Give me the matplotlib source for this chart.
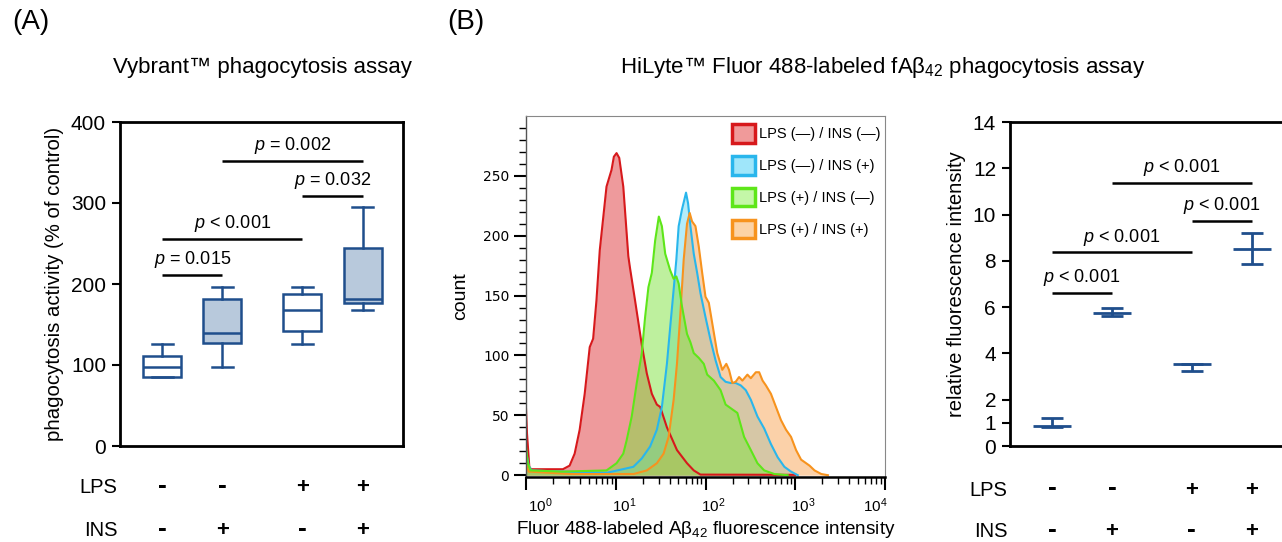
import numpy as np
import matplotlib
matplotlib.use("Agg")
import matplotlib.pyplot as plt
import matplotlib.transforms as mtransforms
from matplotlib.patches import Patch

plt.rcParams['font.family'] = ['Liberation Sans', 'DejaVu Sans']
plt.rcParams['mathtext.fontset'] = 'custom'
plt.rcParams['mathtext.rm'] = 'Liberation Sans'
plt.rcParams['mathtext.it'] = 'Liberation Sans:italic'

# ---- data ----
lps = ['-', '-', '+', '+']
ins = ['-', '+', '-', '+']

# (A) Vybrant box plot stats
box_lo = [85, 98, 126, 168]
box_q1 = [85, 127, 142, 177]
box_med = [98, 140, 168, 182]
box_q3 = [111, 181, 188, 245]
box_hi = [126, 196, 196, 295]
box_filled = [False, True, False, True]

sig_a_pairs = [(0, 1), (0, 2), (2, 3), (1, 3)]
sig_a_y = [211, 256, 309, 352]
sig_a_text = ['= 0.015', '< 0.001', '= 0.032', '= 0.002']

# (B) histograms, x given as log10(intensity)
red_lx = [-0.05, 0.0, 0.011, 0.037, 0.056, 0.2, 0.411, 0.486, 0.542, 0.598, 0.654, 0.710, 0.748,
          0.785, 0.822, 0.897, 0.953, 0.979, 1.009, 1.039, 1.084, 1.140, 1.159, 1.215, 1.290,
          1.346, 1.402, 1.458, 1.495, 1.570, 1.682, 1.794, 1.869, 1.944, 3.0]
red_y = [56, 56, 35, 7, 5, 5, 5, 8, 18, 38, 68, 107, 114,
         146, 188, 241, 255, 266, 269, 265, 241, 183, 173, 146, 109,
         85, 68, 59, 57, 40, 21, 10, 4, 0.5, 0.3]

cyan_lx = [-0.05, 0.0, 0.03, 0.06, 0.4, 0.9, 1.196, 1.290, 1.383, 1.458, 1.514, 1.570, 1.607, 1.645,
           1.675, 1.701, 1.738, 1.764, 1.783, 1.806, 1.832, 1.869, 1.907, 1.944, 2.000,
           2.056, 2.112, 2.168, 2.224, 2.280, 2.336, 2.393, 2.449, 2.505, 2.579, 2.654,
           2.729, 2.804, 2.879, 2.953, 3.028]
cyan_y = [20, 20, 8, 4, 3, 2, 7, 14, 24, 38, 57, 93, 124, 155,
          180, 208, 222, 230, 236, 227, 208, 185, 169, 152, 132,
          113, 96, 82, 78, 77, 77, 75, 71, 63, 49, 39,
          26, 15, 7, 3, 0]

green_lx = [-0.05, 0.0, 0.02, 0.05, 0.4, 0.897, 1.009, 1.084, 1.121, 1.178, 1.234, 1.290, 1.327,
            1.364, 1.402, 1.439, 1.480, 1.514, 1.551, 1.607, 1.645, 1.675, 1.701, 1.738,
            1.794, 1.832, 1.869, 1.925, 1.981, 2.019, 2.093, 2.168, 2.224, 2.280, 2.355,
            2.430, 2.505, 2.579, 2.654, 2.766, 2.916]
green_y = [24, 24, 10, 4, 3, 4, 10, 18, 29, 49, 77, 102, 132,
           157, 169, 196, 216, 208, 185, 171, 164, 166, 160, 141,
           118, 111, 102, 98, 93, 84, 79, 71, 59, 56, 52,
           32, 21, 10, 4, 1, 0]

orange_lx = [-0.05, 0.0, 0.03, 0.5, 1.2, 1.346, 1.458, 1.533, 1.589, 1.645, 1.682, 1.720, 1.757,
             1.794, 1.824, 1.850, 1.888, 1.925, 1.963, 2.000, 2.037, 2.075, 2.131, 2.187,
             2.232, 2.262, 2.299, 2.336, 2.374, 2.411, 2.467, 2.505, 2.561, 2.598, 2.636,
             2.673, 2.729, 2.785, 2.841, 2.897, 2.953, 3.009, 3.065, 3.159, 3.215, 3.290, 3.364]
orange_y = [10, 10, 3, 1, 1, 4, 10, 18, 32, 63, 93, 135, 180,
            210, 219, 212, 208, 191, 169, 149, 144, 127, 102, 88,
            93, 88, 77, 78, 82, 79, 84, 81, 86, 86, 79,
            75, 68, 57, 46, 38, 32, 21, 13, 8, 4, 1, 0]

label_red = 'LPS (—) / INS (—)'
label_cyan = 'LPS (—) / INS (+)'
label_green = 'LPS (+) / INS (—)'
label_orange = 'LPS (+) / INS (+)'

# (C) relative fluorescence intensity, mean with lower / upper error
rfi_mean = [0.86, 5.75, 3.53, 8.50]
rfi_lo = [0.80, 5.60, 3.23, 7.87]
rfi_hi = [1.22, 5.98, 3.56, 9.19]

sig_c_pairs = [(0, 1), (0, 2), (2, 3), (1, 3)]
sig_c_y = [6.63, 8.37, 9.74, 11.37]
sig_c_text = ['< 0.001', '< 0.001', '< 0.001', '< 0.001']

# ---- layout ----
W, H = 1282, 542
fig = plt.figure(figsize=(W / 100, H / 100), dpi=100)

def px_axes(l, t, r, b):
    return fig.add_axes([l / W, 1 - b / H, (r - l) / W, (b - t) / H])

pos = [1, 2, 3.33, 4.33]
blue = '#1f4e8c'

def style_dotplot(ax):
    for s in ax.spines.values():
        s.set_linewidth(2)
    ax.set_xlim(0.3, 5.0)
    ax.set_xticks([])
    ax.tick_params(axis='y', direction='out', length=6, width=1.5, labelsize=15, pad=4)

def add_rows(ax, y1, y2):
    tr = mtransforms.blended_transform_factory(ax.transData, ax.transAxes)
    for name, signs, yy in [('LPS', lps, y1), ('INS', ins, y2)]:
        ax.text(-0.01, yy, name, transform=ax.transAxes, ha='right', va='center', fontsize=14.5)
        for p, s in zip(pos, signs):
            if s == '-':
                ax.text(p, yy + 0.005, s, transform=tr, ha='center', va='center', fontsize=19,
                        fontweight='bold')
            else:
                ax.text(p, yy, s, transform=tr, ha='center', va='center', fontsize=16,
                        fontweight='bold')

def add_sig(ax, pairs, ys, texts, off):
    for (i, j), y, t in zip(pairs, ys, texts):
        ax.plot([pos[i], pos[j]], [y, y], color='black', lw=1.8, solid_capstyle='butt')
        ax.text((pos[i] + pos[j]) / 2, y + off, '$\\it{p}$ ' + t, ha='center', va='bottom',
                fontsize=13)

# ---- panel A ----
axA = px_axes(120, 122, 403, 446)
stats = []
for lo, q1, md, q3, hi in zip(box_lo, box_q1, box_med, box_q3, box_hi):
    stats.append(dict(whislo=lo, q1=q1, med=md, q3=q3, whishi=hi, fliers=[]))
bp = axA.bxp(stats, positions=pos, widths=0.63, capwidths=0.35, patch_artist=True,
             showfliers=False,
             boxprops=dict(edgecolor=blue, linewidth=1.8),
             medianprops=dict(color=blue, linewidth=1.8),
             whiskerprops=dict(color=blue, linewidth=1.8),
             capprops=dict(color=blue, linewidth=1.8))
for patch, f in zip(bp['boxes'], box_filled):
    patch.set_facecolor('#b8c9dc' if f else 'white')
axA.set_ylim(0, 400)
axA.set_yticks([0, 100, 200, 300, 400])
style_dotplot(axA)
axA.set_ylabel('phagocytosis activity (% of control)', fontsize=14.7, labelpad=5)
add_rows(axA, -0.127, -0.26)
add_sig(axA, sig_a_pairs, sig_a_y, sig_a_text, 6)

# ---- panel B ----
axB = px_axes(526, 116, 885, 477)
curves = {
    'red': (red_lx, red_y, '#e0474c', 0.55, '#d7191c', '#f09a9a', label_red),
    'cyan': (cyan_lx, cyan_y, '#5ad6f2', 0.45, '#29b6ec', '#9fe6fa', label_cyan),
    'orange': (orange_lx, orange_y, '#f9a455', 0.5, '#f7931e', '#fcd3a6', label_orange),
    'green': (green_lx, green_y, '#7fe33f', 0.5, '#5ee619', '#c4f7a8', label_green),
}
handles = {}
for key in ['red', 'cyan', 'orange', 'green']:
    lx, y, fc, a, lc, legc, lab = curves[key]
    x = 10 ** np.array(lx)
    axB.fill_between(x, 0, y, color=fc, alpha=a, lw=0)
    axB.plot(x, y, color=lc, lw=1.5)
    handles[key] = Patch(facecolor=legc, edgecolor=lc, linewidth=2.5, label=lab)
axB.set_xscale('log')
axB.set_xlim(1, 1e4)
axB.set_ylim(-1.5, 300)
axB.set_xticks([1, 10, 100, 1000, 10000],
               labels=['$10^{0}$', '$10^{1}$', '$10^{2}$', '$10^{3}$', '$10^{4}$'],
               fontsize=11)
axB.set_yticks([0, 50, 100, 150, 200, 250], labels=['0', '50', '100', '150', '200', '250'],
               fontfamily='DejaVu Sans', fontsize=10)
axB.set_yticks(np.arange(0, 300, 10), minor=True)
axB.tick_params(which='major', direction='out', length=9, width=1.5, pad=3)
axB.tick_params(axis='x', which='major', pad=5)
axB.tick_params(which='minor', direction='out', length=5, width=1)
for s in ['top', 'right']:
    axB.spines[s].set_color('#888888')
    axB.spines[s].set_linewidth(0.8)
axB.spines['left'].set_color('#555555')
axB.spines['left'].set_linewidth(1)
axB.spines['bottom'].set_linewidth(1.8)
axB.set_ylabel('count', fontsize=14, labelpad=10)
axB.set_xlabel('Fluor 488-labeled Aβ$_{42}$ fluorescence intensity', fontsize=13.6, labelpad=3)
axB.legend(handles=[handles[k] for k in ['red', 'cyan', 'green', 'orange']],
           loc='upper right', bbox_to_anchor=(1.0, 0.99), frameon=False,
           fontsize=10.5, handlelength=1.6, handleheight=1.6, labelspacing=0.9,
           handletextpad=0.25, borderaxespad=0.1, borderpad=0.2)

# ---- panel C ----
axC = px_axes(1010, 122, 1292, 446)
for p, m, lo, hi in zip(pos, rfi_mean, rfi_lo, rfi_hi):
    axC.errorbar([p], [m], yerr=[[m - lo], [hi - m]], fmt='_', color=blue, markersize=28,
                 mew=2, elinewidth=2, capsize=8, capthick=2)
axC.set_ylim(0, 14)
axC.set_yticks([0, 1, 2, 4, 6, 8, 10, 12, 14])
style_dotplot(axC)
axC.set_ylabel('relative fluorescence intensity', fontsize=14.6, labelpad=5)
add_rows(axC, -0.136, -0.265)
add_sig(axC, sig_c_pairs, sig_c_y, sig_c_text, 0.2)

# ---- titles ----
fig.text(12 / W, 1 - 22 / H, '(A)', fontsize=20, va='center')
fig.text(447 / W, 1 - 22 / H, '(B)', fontsize=20, va='center')
fig.text(262 / W, 1 - 68 / H, 'Vybrant™ phagocytosis assay', fontsize=16, ha='center', va='center')
fig.text(883 / W, 1 - 68 / H, 'HiLyte™ Fluor 488-labeled fAβ$_{42}$ phagocytosis assay',
         fontsize=16, ha='center', va='center')

# nudge the log tick labels sideways, as in the original export
fig.canvas.draw()
shifts = [14, 8, 8, 8, -10]
for tick, dx in zip(axB.xaxis.get_major_ticks(), shifts):
    lab = tick.label1
    lab.set_transform(lab.get_transform() +
                      mtransforms.ScaledTranslation(dx / 100, 0, fig.dpi_scale_trans))

fig.savefig('out.png', dpi=100)
